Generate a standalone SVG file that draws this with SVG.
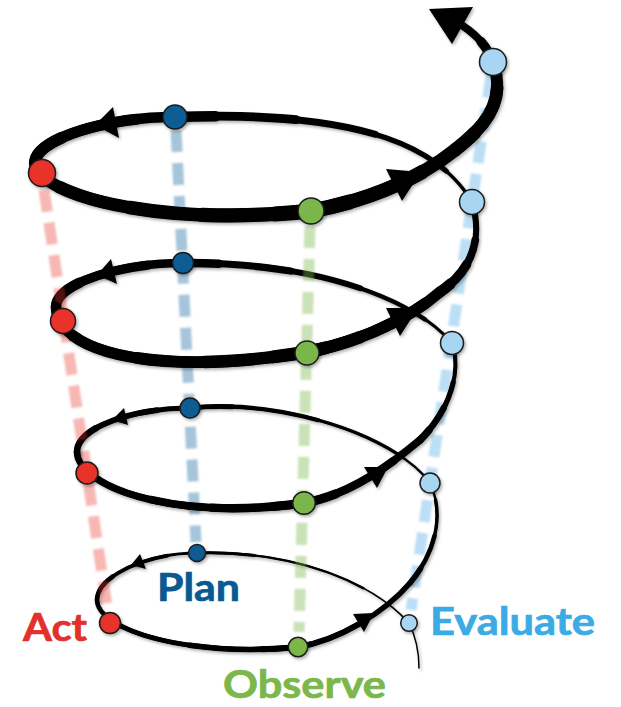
<svg xmlns="http://www.w3.org/2000/svg" xmlns:xlink="http://www.w3.org/1999/xlink" width="621" height="707" viewBox="0 0 621 707">
  <defs>
    <style>
      .seg use{fill:none;stroke:#000;stroke-linecap:round;stroke-linejoin:round}
      .f12{stroke-dasharray:100 300;stroke-dashoffset:-12.5}
      .f17{stroke-dasharray:100 300;stroke-dashoffset:-16.7}
      .f25{stroke-dasharray:100 300;stroke-dashoffset:-25}
      .f37{stroke-dasharray:100 300;stroke-dashoffset:-37.5}
      .f50{stroke-dasharray:100 300;stroke-dashoffset:-50}
      .f62{stroke-dasharray:100 300;stroke-dashoffset:-62.5}
      .f75{stroke-dasharray:100 300;stroke-dashoffset:-75}
      .f83{stroke-dasharray:100 300;stroke-dashoffset:-83.3}
      .f87{stroke-dasharray:100 300;stroke-dashoffset:-87.5}
      .t12{stroke-dasharray:12.5 300}
      .t17{stroke-dasharray:16.7 300}
      .t25{stroke-dasharray:25 300}
      .t37{stroke-dasharray:37.5 300}
      .t50{stroke-dasharray:50 300}
      .t62{stroke-dasharray:62.5 300}
      .t75{stroke-dasharray:75 300}
      .t83{stroke-dasharray:83.3 300}
      .t87{stroke-dasharray:87.5 300}
      .arr{fill:#000}
      .guide{fill:none;stroke-width:11;stroke-dasharray:22 11}
      .dot{stroke:#1b1b1b;stroke-width:1.5}
      .lbl{font-family:Lato,'Open Sans','Liberation Sans',sans-serif;font-weight:700;font-size:39px;stroke-width:0.7;stroke-linejoin:round}
    </style>
    <filter id="shadow" x="-10%" y="-10%" width="125%" height="125%">
      <feDropShadow dx="1.5" dy="2" stdDeviation="1.8" flood-color="#000" flood-opacity="0.3"/>
    </filter>
    <filter id="soft" x="-20%" y="-5%" width="140%" height="110%">
      <feGaussianBlur stdDeviation="0.8"/>
    </filter>
    <!-- spiral pieces, each normalised to length 100 so widths can be layered -->
    <path id="s1" pathLength="100" d="M419,668 C419,650 415,635 409,623"/>
    <path id="s2" pathLength="100" d="M409,623 C370,580 290,550 197,553"/>
    <path id="s3" pathLength="100" d="M197,553 C150,553 97,575 97,600"/>
    <path id="s4" pathLength="100" d="M97,600 C97,630 190,658 298,647"/>
    <path id="s5" pathLength="100" d="M298,647 C340,640 385,612 410,583"/>
    <path id="s6" pathLength="100" d="M410,583 C435,553 445,515 430,483"/>
    <path id="s7" pathLength="100" d="M430,483 C400,440 290,398 189,408"/>
    <path id="s8" pathLength="100" d="M189,408 C140,408 77,425 77,452"/>
    <path id="s9" pathLength="100" d="M77,452 C77,485 170,522 304,503"/>
    <path id="s10" pathLength="100" d="M304,503 C350,495 390,465 420,440"/>
    <path id="s11" pathLength="100" d="M420,440 C450,410 462,370 452,343"/>
    <path id="s12" pathLength="100" d="M452,343 C415,300 320,262 183,263"/>
    <path id="s13" pathLength="100" d="M183,263 C125,263 56,282 56,307"/>
    <path id="s14" pathLength="100" d="M56,307 C56,350 150,378 307,352"/>
    <path id="s15" pathLength="100" d="M307,352 C360,342 410,318 440,292"/>
    <path id="s16" pathLength="100" d="M440,292 C475,268 482,235 472,202"/>
    <path id="s17" pathLength="100" d="M472,202 C430,130 320,112 175,117"/>
    <path id="s18" pathLength="100" d="M175,117 C110,117 35,138 35,163"/>
    <path id="s19" pathLength="100" d="M35,163 C35,192 150,228 311,211"/>
    <path id="s20" pathLength="100" d="M311,211 C370,200 420,178 455,150"/>
    <path id="s21" pathLength="100" d="M455,150 C480,130 508,105 493,62"/>
    <path id="s22" pathLength="100" d="M493,62 C488,48 478,36 463,26"/>
  </defs>

  <rect width="621" height="707" fill="#fff"/>

  <!-- rear half of every turn (drawn beneath the guides) -->
  <g id="spiral-back" class="seg" filter="url(#shadow)">
    <use href="#s1" style="stroke-width:1.5"/>
    <use href="#s2" style="stroke-width:1.8"/>
    <use href="#s2" class="f25" style="stroke-width:2.4"/>
    <use href="#s2" class="f75" style="stroke-width:3"/>
    <use href="#s3" style="stroke-width:3"/>
    <use href="#s3" class="f25" style="stroke-width:3.75"/>
    <use href="#s3" class="f75" style="stroke-width:4.5"/>
    <use href="#s7" style="stroke-width:2.5"/>
    <use href="#s7" class="f17" style="stroke-width:3.33"/>
    <use href="#s7" class="f50" style="stroke-width:4.17"/>
    <use href="#s7" class="f83" style="stroke-width:5"/>
    <use href="#s8" style="stroke-width:5"/>
    <use href="#s8" class="f25" style="stroke-width:5.75"/>
    <use href="#s8" class="f75" style="stroke-width:6.5"/>
    <use href="#s12" style="stroke-width:3"/>
    <use href="#s12" class="f12" style="stroke-width:4.4"/>
    <use href="#s12" class="f37" style="stroke-width:5.75"/>
    <use href="#s12" class="f62" style="stroke-width:7.1"/>
    <use href="#s12" class="f87" style="stroke-width:8.5"/>
    <use href="#s13" style="stroke-width:8.5"/>
    <use href="#s13" class="f25" style="stroke-width:9.5"/>
    <use href="#s13" class="f75" style="stroke-width:10.5"/>
    <use href="#s17" style="stroke-width:3.5"/>
    <use href="#s17" class="f12" style="stroke-width:5.25"/>
    <use href="#s17" class="f37" style="stroke-width:7"/>
    <use href="#s17" class="f62" style="stroke-width:8.75"/>
    <use href="#s17" class="f87" style="stroke-width:10.5"/>
    <use href="#s18" style="stroke-width:10.5"/>
    <use href="#s18" class="f25" style="stroke-width:11.25"/>
    <use href="#s18" class="f75" style="stroke-width:12"/>
  </g>

  <!-- translucent dashed guides joining the same stage on each turn -->
  <g id="guides" class="guide" filter="url(#soft)">
    <path d="M44,190 L107,606" stroke="#e8302a" stroke-opacity="0.35"/>
    <path d="M176,130 L196,542" stroke="#0d5b94" stroke-opacity="0.35"/>
    <path d="M310,226 L299,632" stroke="#7ab648" stroke-opacity="0.4"/>
    <path d="M491,76 L411,610" stroke="#8fcaf0" stroke-opacity="0.6"/>
  </g>

  <!-- front half of every turn plus the rising links and arrowheads -->
  <g id="connectors" filter="url(#shadow)">
    <g class="seg">
      <use href="#s4" style="stroke-width:4.5"/>
      <use href="#s4" class="f17" style="stroke-width:5"/>
      <use href="#s4" class="f50" style="stroke-width:5.5"/>
      <use href="#s4" class="f83" style="stroke-width:6"/>
      <use href="#s5" style="stroke-width:5.5"/>
      <use href="#s5" class="t50" style="stroke-width:6"/>
      <use href="#s6" style="stroke-width:2.5"/>
      <use href="#s6" class="t83" style="stroke-width:3.5"/>
      <use href="#s6" class="t50" style="stroke-width:4.5"/>
      <use href="#s6" class="t17" style="stroke-width:5.5"/>
      <use href="#s9" style="stroke-width:6.5"/>
      <use href="#s9" class="f12" style="stroke-width:7.1"/>
      <use href="#s9" class="f37" style="stroke-width:7.75"/>
      <use href="#s9" class="f62" style="stroke-width:8.4"/>
      <use href="#s9" class="f87" style="stroke-width:9"/>
      <use href="#s10" style="stroke-width:7.5"/>
      <use href="#s10" class="t75" style="stroke-width:8.25"/>
      <use href="#s10" class="t25" style="stroke-width:9"/>
      <use href="#s11" style="stroke-width:3"/>
      <use href="#s11" class="t87" style="stroke-width:4.1"/>
      <use href="#s11" class="t62" style="stroke-width:5.25"/>
      <use href="#s11" class="t37" style="stroke-width:6.4"/>
      <use href="#s11" class="t12" style="stroke-width:7.5"/>
      <use href="#s14" style="stroke-width:10.5"/>
      <use href="#s14" class="f12" style="stroke-width:11.1"/>
      <use href="#s14" class="f37" style="stroke-width:11.75"/>
      <use href="#s14" class="f62" style="stroke-width:12.4"/>
      <use href="#s14" class="f87" style="stroke-width:13"/>
      <use href="#s15" style="stroke-width:11"/>
      <use href="#s15" class="t87" style="stroke-width:11.5"/>
      <use href="#s15" class="t62" style="stroke-width:12"/>
      <use href="#s15" class="t37" style="stroke-width:12.5"/>
      <use href="#s15" class="t12" style="stroke-width:13"/>
      <use href="#s16" style="stroke-width:4.5"/>
      <use href="#s16" class="t87" style="stroke-width:6.1"/>
      <use href="#s16" class="t62" style="stroke-width:7.75"/>
      <use href="#s16" class="t37" style="stroke-width:9.4"/>
      <use href="#s16" class="t12" style="stroke-width:11"/>
      <use href="#s19" style="stroke-width:12"/>
      <use href="#s19" class="f12" style="stroke-width:12.75"/>
      <use href="#s19" class="f37" style="stroke-width:13.5"/>
      <use href="#s19" class="f62" style="stroke-width:14.25"/>
      <use href="#s19" class="f87" style="stroke-width:15"/>
      <use href="#s20" style="stroke-width:13.5"/>
      <use href="#s20" class="t75" style="stroke-width:14.25"/>
      <use href="#s20" class="t25" style="stroke-width:15"/>
      <use href="#s21" style="stroke-width:12"/>
      <use href="#s21" class="t75" style="stroke-width:12.75"/>
      <use href="#s21" class="t25" style="stroke-width:13.5"/>
      <use href="#s22" style="stroke-width:8"/>
      <use href="#s22" class="t50" style="stroke-width:9.5"/>
    </g>
    <g class="arr">
      <polygon points="95,125 113,107 119,138"/>
      <polygon points="421,172 386,169 402,201"/>
      <polygon points="97,275 111,259 117,284"/>
      <polygon points="418,308 386,308 400,336"/>
      <polygon points="112,420 124,408 128,425"/>
      <polygon points="388,467 364,467 377,488"/>
      <polygon points="131,565 140,554 146,569"/>
      <polygon points="374,613 353,614 364,632"/>
      <polygon points="429,9 473,7 452,44"/>
    </g>
  </g>

  <!-- stage markers and labels -->
  <g id="act">
    <g filter="url(#shadow)" fill="#e8302a" class="dot">
      <circle cx="42" cy="173" r="13.5"/>
      <circle cx="63" cy="321" r="12.5"/>
      <circle cx="87" cy="473" r="11"/>
      <circle cx="110" cy="623" r="10.5"/>
    </g>
    <text class="lbl" x="23" y="641" fill="#e2312d" stroke="#e2312d" textLength="64" lengthAdjust="spacingAndGlyphs">Act</text>
  </g>
  <g id="plan">
    <g filter="url(#shadow)" fill="#0d5b94" class="dot">
      <circle cx="175" cy="117" r="12"/>
      <circle cx="183" cy="263" r="10.5"/>
      <circle cx="190" cy="408" r="10"/>
      <circle cx="197" cy="553" r="8.5"/>
    </g>
    <text class="lbl" x="157" y="600.5" fill="#0a5a91" stroke="#0a5a91" textLength="83" lengthAdjust="spacingAndGlyphs">Plan</text>
  </g>
  <g id="observe">
    <g filter="url(#shadow)" fill="#7ab648" class="dot">
      <circle cx="311" cy="211" r="13"/>
      <circle cx="307" cy="353" r="12"/>
      <circle cx="304" cy="503" r="11.3"/>
      <circle cx="298" cy="647" r="9.7"/>
    </g>
    <text class="lbl" x="223" y="697.5" fill="#7bb74a" stroke="#7bb74a" textLength="163" lengthAdjust="spacingAndGlyphs">Observe</text>
  </g>
  <g id="evaluate">
    <g filter="url(#shadow)" fill="#a8d5f2" class="dot">
      <circle cx="493" cy="62" r="13.5"/>
      <circle cx="472" cy="202" r="12.5"/>
      <circle cx="452" cy="343" r="11.5"/>
      <circle cx="430" cy="483" r="10"/>
      <circle cx="409" cy="623" r="8.3"/>
    </g>
    <text class="lbl" x="430" y="634.5" fill="#3aabe4" stroke="#3aabe4" textLength="165" lengthAdjust="spacingAndGlyphs">Evaluate</text>
  </g>
</svg>
